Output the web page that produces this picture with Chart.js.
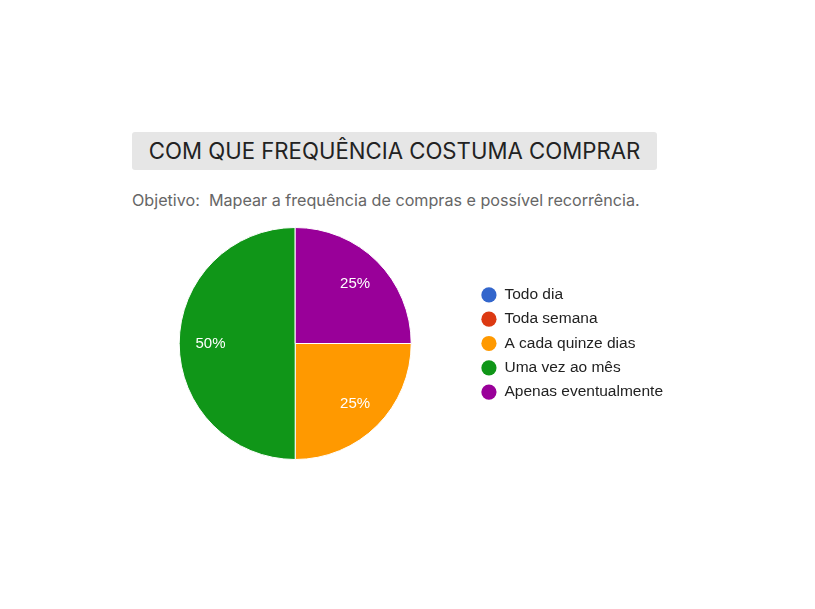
<!DOCTYPE html>
<html>
<head>
<meta charset="utf-8">
<script src="https://cdn.jsdelivr.net/npm/chart.js@4"></script>
<style>
    body { margin: 0; background: #fff; width: 815px; height: 609px; position: relative; overflow: hidden; }
    #title {
        position: absolute; left: 132px; top: 132px; width: 525px; height: 38px;
        background: #e6e6e6; border-radius: 3px;
        font-family: Inter, sans-serif; font-size: 22.2px; color: #222;
        line-height: 38px; text-align: center; white-space: nowrap;
    }
    #subtitle {
        position: absolute; left: 132px; top: 190px;
        font-family: Inter, sans-serif; font-size: 16.15px; color: #666;
        white-space: pre;
    }
    #chartBox { position: absolute; left: 118px; top: 227px; width: 555px; height: 233px; }
</style>
</head>
<body>
<div id="title">COM QUE FREQUÊNCIA COSTUMA COMPRAR</div>
<div id="subtitle">Objetivo:  Mapear a frequência de compras e possível recorrência.</div>
<div id="chartBox"><canvas id="pieChart"></canvas></div>
<script>
// Data
const labels = ['Todo dia', 'Toda semana', 'A cada quinze dias', 'Uma vez ao mês', 'Apenas eventualmente'];
const percents = [0, 0, 25, 50, 25];
const colors = ['#3366cc', '#dc3912', '#ff9900', '#109618', '#990099'];

// Percent labels inside the slices
const sliceLabels = {
    id: 'sliceLabels',
    afterDatasetsDraw(chart) {
        const ctx = chart.ctx;
        const meta = chart.getDatasetMeta(0);
        ctx.save();
        ctx.fillStyle = '#fff';
        ctx.font = '15px "Liberation Sans", Arial, sans-serif';
        ctx.textAlign = 'center';
        ctx.textBaseline = 'middle';
        meta.data.forEach((arc, i) => {
            if (!percents[i]) return;
            const p = arc.getProps(['x', 'y', 'startAngle', 'endAngle', 'outerRadius'], true);
            const mid = (p.startAngle + p.endAngle) / 2;
            const r = p.outerRadius * 0.73;
            ctx.fillText(percents[i] + '%', p.x + Math.cos(mid) * r, p.y + Math.sin(mid) * r);
        });
        ctx.restore();
    }
};

const defaultLabels = Chart.overrides.pie.plugins.legend.labels.generateLabels;

new Chart(document.getElementById('pieChart'), {
    type: 'pie',
    data: {
        labels: labels,
        datasets: [{
            data: percents,
            backgroundColor: colors,
            borderColor: '#fff',
            borderWidth: 1
        }]
    },
    options: {
        responsive: true,
        maintainAspectRatio: false,
        animation: false,
        rotation: 90,
        layout: { padding: 0 },
        plugins: {
            legend: {
                position: 'right',
                labels: {
                    usePointStyle: true,
                    pointStyle: 'circle',
                    boxWidth: 16,
                    boxHeight: 10.75,
                    padding: 8.8,
                    color: '#222',
                    font: { family: '"Liberation Sans", Arial, sans-serif', size: 15.5 },
                    generateLabels(chart) {
                        // no white ring round the legend dots
                        return defaultLabels(chart).map(item => ({ ...item, lineWidth: 0 }));
                    }
                }
            },
            tooltip: { enabled: false }
        }
    },
    plugins: [sliceLabels]
});
</script>
</body>
</html>
